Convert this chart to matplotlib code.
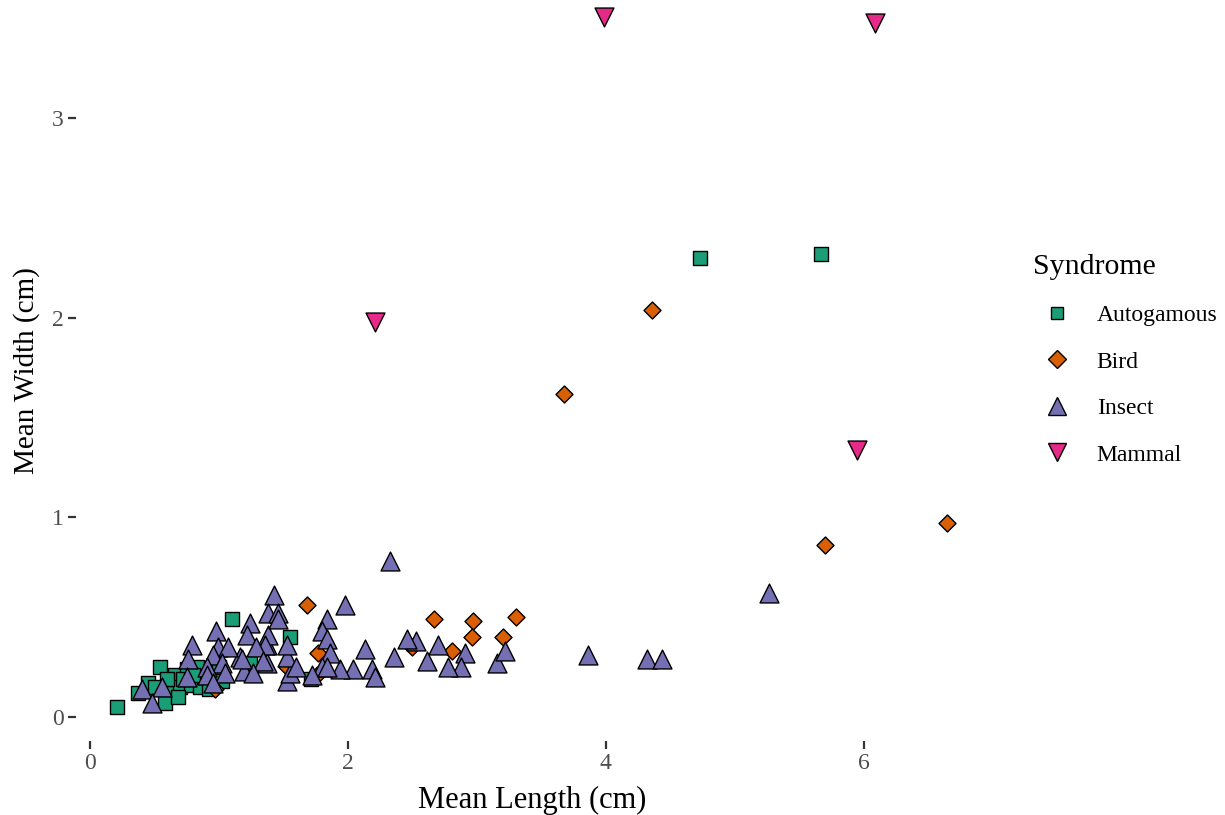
import matplotlib.pyplot as plt
from matplotlib.lines import Line2D

plt.rcParams["font.family"] = ["Liberation Serif", "DejaVu Serif"]

# Mean flower length / width (cm) by pollination syndrome.
auto_len = [0.21, 1.10, 0.54, 0.66, 0.45, 0.37, 0.60, 0.70, 0.58, 0.78, 0.83, 0.85,
            0.75, 0.88, 1.24, 1.55, 1.71, 4.73, 5.67, 0.60, 0.72, 0.50, 0.95, 1.00,
            0.68, 0.92, 0.80, 1.02]
auto_wid = [0.05, 0.49, 0.25, 0.21, 0.17, 0.12, 0.12, 0.15, 0.07, 0.16, 0.25, 0.15,
            0.24, 0.20, 0.27, 0.40, 0.19, 2.30, 2.32, 0.19, 0.19, 0.15, 0.22, 0.25,
            0.10, 0.14, 0.21, 0.18]

bird_len = [3.68, 4.36, 5.70, 6.65, 1.68, 2.67, 2.97, 3.30, 2.96, 3.20, 2.81, 1.77,
            2.50, 1.53, 0.97, 1.76]
bird_wid = [1.62, 2.04, 0.86, 0.97, 0.56, 0.49, 0.48, 0.50, 0.40, 0.40, 0.33, 0.32,
            0.35, 0.25, 0.14, 0.21]

insect_len = [2.33, 5.27, 3.86, 4.32, 4.44, 3.16, 3.22, 2.91, 2.88, 2.78, 2.70, 2.61,
              2.53, 2.46, 2.36, 2.13, 2.19, 2.21, 2.04, 1.94, 1.98, 1.43, 1.84, 1.80,
              1.84, 1.86, 1.80, 1.72, 1.53, 1.55, 1.53, 1.53, 1.37, 1.37, 1.38, 1.38,
              1.46, 1.46, 1.60, 1.84, 1.24, 1.22, 1.36, 1.29, 1.16, 1.34, 1.19, 1.26,
              0.98, 0.79, 0.99, 1.07, 0.95, 1.02, 0.91, 1.05, 0.91, 0.95, 0.76, 0.75,
              0.56, 0.40, 0.48, 1.18]
insect_wid = [0.78, 0.62, 0.31, 0.29, 0.29, 0.27, 0.33, 0.32, 0.25, 0.25, 0.36, 0.28,
              0.38, 0.39, 0.30, 0.34, 0.24, 0.20, 0.24, 0.24, 0.56, 0.61, 0.49, 0.43,
              0.39, 0.32, 0.25, 0.21, 0.18, 0.22, 0.30, 0.36, 0.36, 0.27, 0.41, 0.52,
              0.52, 0.49, 0.25, 0.25, 0.47, 0.41, 0.36, 0.35, 0.30, 0.28, 0.23, 0.22,
              0.43, 0.36, 0.35, 0.35, 0.31, 0.27, 0.25, 0.22, 0.21, 0.17, 0.29, 0.20,
              0.15, 0.14, 0.07, 0.29]

mammal_len = [3.99, 6.09, 2.21, 5.95]
mammal_wid = [3.51, 3.48, 1.98, 1.34]

# name, x, y, marker, fill, scatter size, legend marker size
groups = [
    ("Autogamous", auto_len, auto_wid, "s", "#1B9E77", 88, 9.2),
    ("Bird", bird_len, bird_wid, "D", "#D95F02", 75, 9.0),
    ("Insect", insect_len, insect_wid, "^", "#7570B3", 185, 13),
    ("Mammal", mammal_len, mammal_wid, "v", "#E7298A", 185, 13),
]

fig = plt.figure(figsize=(12.25, 8.15), dpi=100)
ax = fig.add_axes([0.062, 0.091, 0.745, 0.909])

for name, xs, ys, mk, col, size, _ in groups:
    ax.scatter(xs, ys, marker=mk, s=size, c=col, edgecolors="black",
               linewidths=1.0, zorder=3, label=name)

ax.set_xlim(-0.11, 6.97)
ax.set_ylim(-0.12, 3.594)
ax.set_xticks([0, 2, 4, 6])
ax.set_yticks([0, 1, 2, 3])
for side in ax.spines.values():
    side.set_visible(False)
ax.tick_params(colors="#333333", labelcolor="#4D4D4D", labelsize=17,
               length=6, width=1.6, pad=3)

ax.set_xlabel("Mean Length (cm)", fontsize=22, labelpad=8)
ax.set_ylabel("Mean Width (cm)", fontsize=21, labelpad=8)

handles = [Line2D([], [], marker=mk, linestyle="none", markerfacecolor=col,
                  markeredgecolor="black", markeredgewidth=1.0,
                  markersize=ms, label=name)
           for name, xs, ys, mk, col, size, ms in groups]
leg = fig.legend(handles=handles, title="Syndrome", loc="upper left",
                 bbox_to_anchor=(0.826, 0.715), frameon=False, fontsize=17,
                 title_fontsize=21.5, labelspacing=1.06, handletextpad=0.7,
                 handlelength=2.0, alignment="left")

fig.savefig("out.png", dpi=100)
